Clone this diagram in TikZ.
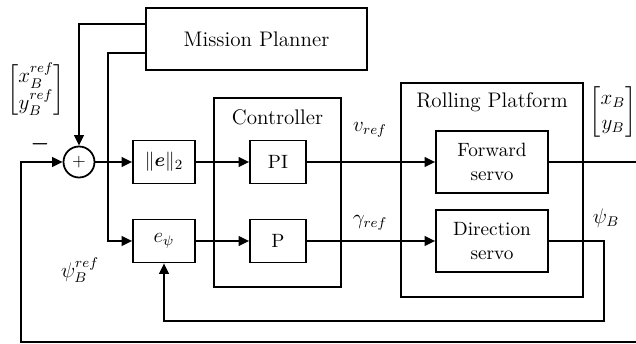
\documentclass[tikz,border=0pt,11pt]{standalone}
\usepackage{amsmath,amssymb,amsfonts}
\usepackage{bm}
\usetikzlibrary{arrows.meta}

\tikzset{
	blk/.style   = {draw, line width=1pt, minimum width=1.24cm, minimum height=0.86cm, inner sep=1pt},
	servo/.style = {draw, line width=1pt, minimum width=2.24cm, minimum height=1.24cm, align=center, inner sep=1pt},
	group/.style = {draw, line width=1pt},
	sumnode/.style = {draw, circle, line width=1pt, minimum size=0.62cm, inner sep=0pt},
	sig/.style   = {line width=1pt},
	arr/.style   = {sig, -{Triangle[length=6pt,width=5.5pt]}},
	lbl/.style   = {font=\large, inner sep=1pt},
}

\begin{document}
\begin{tikzpicture}[x=0.02cm, y=-0.02cm]
	\useasboundingbox (0,0) rectangle (636,344);
	% blocks
	\node[group, minimum width=4.42cm, minimum height=1.24cm] (planner) at (256.5,39) {\large Mission Planner};
	\node[group, minimum width=2.54cm, minimum height=3.78cm] (ctrl) at (277.5,192.5) {};
	\node (ctrltitle) at (277.5,117) {\large Controller};
	\node[group, minimum width=3.64cm, minimum height=4.28cm] (platform) at (492,190) {};
	\node (platformtitle) at (492,102) {\large Rolling Platform};
	\node[sumnode] (sum) at (79,162) {\small $+$};
	\node[blk] (norm) at (164,162) {$\|\bm{e}\|_2$};
	\node[blk] (epsi) at (164,241) {\large $e_\psi$};
	\node[blk, minimum width=1.12cm] (pi) at (278,162) {PI};
	\node[blk, minimum width=1.12cm] (p) at (278,241) {P};
	\node[servo] (fwd) at (492,162) {Forward\\servo};
	\node[servo] (dir) at (492,241) {Direction\\servo};
	% free ends
	\coordinate (fbr) at (636,342);
	\coordinate (fbl) at (21,342);
	% labels
	\node[lbl] (refpos) at (36,90) {$\begin{bmatrix} x_B^{ref}\\ y_B^{ref}\end{bmatrix}$};
	\node[lbl] (refpsi) at (80,270) {$\psi_B^{ref}$};
	\node[lbl] (minus) at (40,144) {$\boldsymbol{-}$};
	\node[lbl] (vref) at (370,130) {$v_{ref}$};
	\node[lbl] (gref) at (370,223) {$\gamma_{ref}$};
	\node[lbl] (pos) at (613,112) {$\begin{bmatrix} x_B\\ y_B\end{bmatrix}$};
	\node[lbl] (psi) at (606,218) {$\psi_B$};
	% connections
	\draw[arr] ([yshift=0.3cm]planner.west) -| (sum.north);
	\draw[arr] ([yshift=-0.28cm]planner.west) -- ++(-37,0) |- (epsi.west);
	\draw[arr] (sum.east) -- (norm.west);
	\draw[arr] (norm.east) -- (pi.west);
	\draw[arr] (epsi.east) -- (p.west);
	\draw[arr] (pi.east) -- (fwd.west);
	\draw[arr] (p.east) -- (dir.west);
	\draw[sig] (fwd.east) -- (fwd.east -| fbr);
	\draw[arr] (dir.east) -- ++(55,0) -- ++(0,80) -| (epsi.south);
	\draw[arr] (fbr) -- (fbl) |- (sum.west);
\end{tikzpicture}
\end{document}
